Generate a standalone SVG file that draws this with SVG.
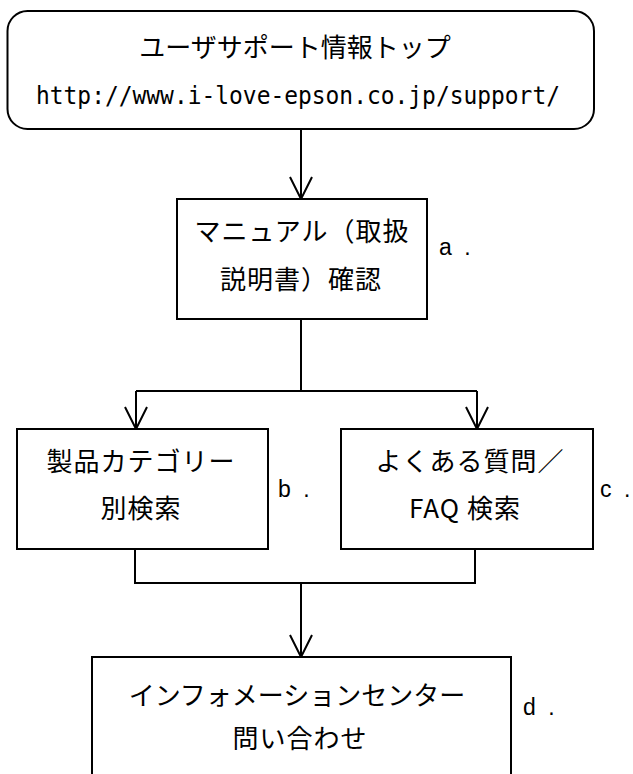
<svg xmlns="http://www.w3.org/2000/svg" width="633" height="774" viewBox="0 0 633 774">
<defs>
<style>
.box{fill:#fff;stroke:#000;stroke-width:2}
.ln{fill:none;stroke:#000;stroke-width:2}
.jp{font-family:"Noto Sans CJK JP","Noto Sans",sans-serif;font-size:26px;fill:#000;text-anchor:middle}
.url{font-family:"DejaVu Sans Mono","Liberation Mono",monospace;font-size:24px;fill:#000}
.lbl{font-family:"Liberation Sans","DejaVu Sans",sans-serif;font-size:23px;fill:#000;letter-spacing:3px}
</style>
<marker id="arr" markerWidth="24" markerHeight="24" viewBox="0 0 24 24" refX="22" refY="12" orient="auto" markerUnits="userSpaceOnUse" overflow="visible">
<path d="M0,1 L22,12 L0,23" fill="none" stroke="#000" stroke-width="2"/>
</marker>
</defs>
<rect width="633" height="774" fill="#fff"/>
<g id="connectors">
<line class="ln" x1="301" y1="129" x2="301" y2="199" marker-end="url(#arr)"/>
<polyline class="ln" points="301,319 301,391"/>
<polyline class="ln" points="136,391 477,391"/>
<line class="ln" x1="136" y1="391" x2="136" y2="429" marker-end="url(#arr)"/>
<line class="ln" x1="477" y1="391" x2="477" y2="429" marker-end="url(#arr)"/>
<polyline class="ln" points="135,549 135,583 475,583 475,549"/>
<line class="ln" x1="301" y1="583" x2="301" y2="657" marker-end="url(#arr)"/>
</g>
<g id="top">
<rect class="box" x="7.5" y="11" width="586.5" height="118" rx="20" ry="20"/>
<text class="jp" x="295" y="57" font-size="27">ユーザサポート情報トップ</text>
<text class="url" x="36" y="104" textLength="524" lengthAdjust="spacingAndGlyphs">http://www.i-love-epson.co.jp/support/</text>
</g>
<g id="node-a">
<rect class="box" x="177" y="199" width="250" height="120"/>
<text class="jp" x="302" y="241" letter-spacing="1">マニュアル（取扱</text>
<text class="jp" x="301" y="289" letter-spacing="1">説明書）確認</text>
<text class="lbl" x="439" y="255">a .</text>
</g>
<g id="node-b">
<rect class="box" x="17" y="429" width="251" height="120"/>
<text class="jp" x="141" y="471" letter-spacing="1">製品カテゴリー</text>
<text class="jp" x="141" y="518" letter-spacing="1">別検索</text>
<text class="lbl" x="278" y="497">b .</text>
</g>
<g id="node-c">
<rect class="box" x="341" y="429" width="252" height="120"/>
<text class="jp" x="470" y="471" letter-spacing="1">よくある質問／</text>
<text class="jp" x="465" y="518" letter-spacing="1">FAQ 検索</text>
<text class="lbl" x="600" y="497" letter-spacing="1">c .</text>
</g>
<g id="node-d">
<rect class="box" x="92" y="657" width="419" height="140"/>
<text class="jp" x="297" y="705">インフォメーションセンター</text>
<text class="jp" x="300" y="748" letter-spacing="1">問い合わせ</text>
<text class="lbl" x="523" y="715">d .</text>
</g>
</svg>
